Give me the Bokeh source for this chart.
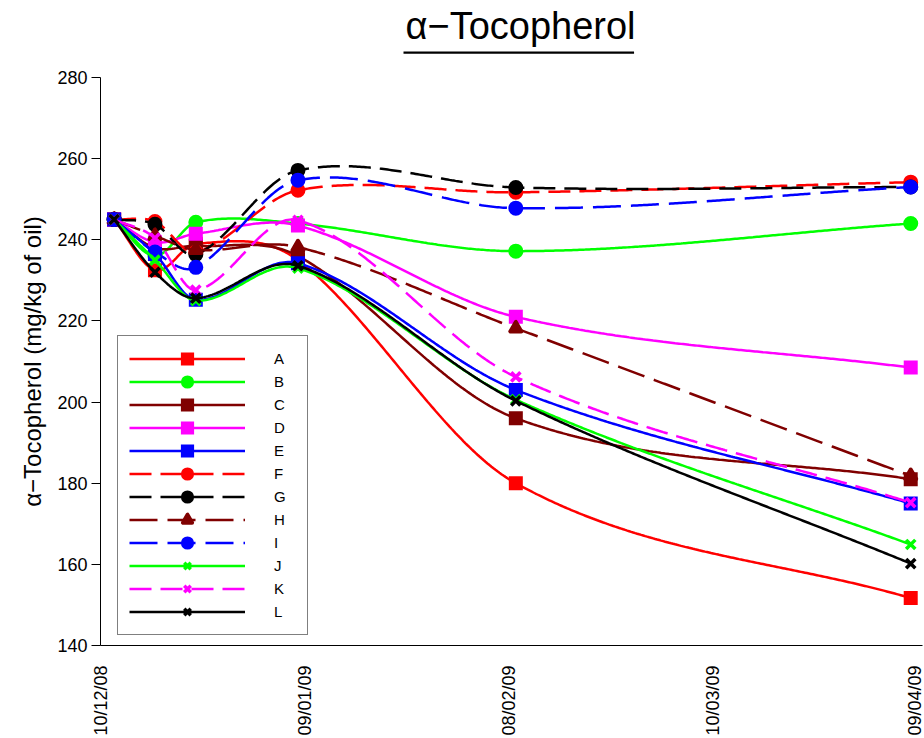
import numpy as np
from datetime import datetime
from bokeh.plotting import figure
from bokeh.models import FixedTicker, Legend, LegendItem, Title, Range1d
from bokeh.embed import file_html
from bokeh.resources import INLINE

# ---- data ----
dates = ["12/12/08", "18/12/08", "24/12/08", "08/01/09", "09/02/09", "08/04/09"]
tick_labels = ["10/12/08", "09/01/09", "08/02/09", "10/03/09", "09/04/09"]
y_ticks = [140, 160, 180, 200, 220, 240, 260, 280]

A = [245, 232.5, 239.0, 235.0, 180.0, 151.7]
B = [245, 236.0, 244.3, 244.0, 237.2, 244.0]
C = [245, 238.0, 238.5, 236.0, 196.0, 181.0]
D = [245, 239.4, 241.5, 243.5, 221.0, 208.5]
E = [245, 236.5, 225.2, 234.2, 203.0, 175.0]
F = [245, 244.5, 237.0, 252.2, 251.7, 254.2]
G = [245, 243.8, 236.4, 257.1, 252.9, 253.0]
H = [245, 241.0, 237.5, 238.2, 218.2, 181.8]
I = [245, 237.0, 233.2, 254.7, 247.8, 253.0]
J = [245, 235.0, 225.0, 233.0, 200.6, 164.9]
K = [245, 240.4, 227.6, 244.8, 206.2, 175.2]
L = [245, 232.0, 225.6, 233.6, 200.3, 160.2]

names = ["A", "B", "C", "D", "E", "F", "G", "H", "I", "J", "K", "L"]
values = [A, B, C, D, E, F, G, H, I, J, K, L]

RED, LIME, MAROON, MAG, BLUE, BLACK = "#FF0000", "#00FF00", "#800000", "#FF00FF", "#0000FF", "#000000"
colors = [RED, LIME, MAROON, MAG, BLUE, RED, BLACK, MAROON, BLUE, LIME, MAG, BLACK]
dashes = ["solid", "solid", "solid", "solid", "solid", "22 9", "22 9", "28 10", "28 10",
          "solid", "22 9", "solid"]
markers = ["square", "circle", "square", "square", "square", "circle", "circle",
           "triangle", "circle", "x", "x", "x"]

fmt = "%d/%m/%y"
base = datetime.strptime(tick_labels[0], fmt)
xdays = [(datetime.strptime(d, fmt) - base).days for d in dates]
tick_days = [(datetime.strptime(d, fmt) - base).days for d in tick_labels]


def smooth_curve(x, y, num=400):
    """Cardinal (Catmull-Rom style) Hermite spline through the data points."""
    x = np.asarray(x, float)
    y = np.asarray(y, float)
    n = len(x)
    m = np.zeros(n)
    m[0] = (y[1] - y[0]) / (x[1] - x[0])
    m[-1] = (y[-1] - y[-2]) / (x[-1] - x[-2])
    m[1:-1] = (y[2:] - y[:-2]) / (x[2:] - x[:-2])
    xs = np.union1d(np.linspace(x[0], x[-1], num), x)
    idx = np.clip(np.searchsorted(x, xs, side="right") - 1, 0, n - 2)
    x0, x1 = x[idx], x[idx + 1]
    h = x1 - x0
    t = (xs - x0) / h
    h00 = 2 * t ** 3 - 3 * t ** 2 + 1
    h10 = t ** 3 - 2 * t ** 2 + t
    h01 = -2 * t ** 3 + 3 * t ** 2
    h11 = t ** 3 - t ** 2
    ys = h00 * y[idx] + h10 * h * m[idx] + h01 * y[idx + 1] + h11 * h * m[idx + 1]
    return xs, ys


FONT = "Liberation Sans"

p = figure(width=924, height=738, output_backend="svg", toolbar_location=None,
           x_range=Range1d(0, 120.73), y_range=Range1d(140, 280),
           min_border_left=100, min_border_right=2, min_border_top=77, min_border_bottom=92)
p.outline_line_color = None
p.xgrid.visible = False
p.ygrid.visible = False

p.title.text = "\u03b1\u2212Tocopherol"
p.title.align = "left"
p.title.offset = 305
p.title.standoff = -35
p.title.text_font = FONT
p.title.text_font_size = "38px"
p.title.text_font_style = "normal"
p.title.text_color = "black"

# underline bar for the title (text annotation with only its background showing)
ul = Title(text=" ", align="left", offset=303, standoff=44, vertical_align="top",
           text_font_size="2px", background_fill_color="black", background_fill_alpha=1,
           padding=(115, 0))
p.add_layout(ul, "above")

# axes
p.yaxis.ticker = FixedTicker(ticks=y_ticks)
p.yaxis.minor_tick_line_color = None
p.yaxis.major_tick_out = 9
p.yaxis.major_tick_in = 0
p.yaxis.major_label_standoff = 4
p.yaxis.major_label_text_font = FONT
p.yaxis.major_label_text_font_size = "18px"
p.yaxis.major_label_text_color = "black"
p.yaxis.axis_label = "\u03b1\u2212Tocopherol (mg/kg of oil)"
p.yaxis.axis_label_text_font = FONT
p.yaxis.axis_label_text_font_size = "24px"
p.yaxis.axis_label_text_font_style = "normal"
p.yaxis.axis_label_text_color = "black"
p.yaxis.axis_label_standoff = 8

p.xaxis.ticker = FixedTicker(ticks=tick_days)
p.xaxis.major_label_overrides = {d: lab for d, lab in zip(tick_days, tick_labels)}
p.xaxis.minor_tick_line_color = None
p.xaxis.major_tick_out = 0
p.xaxis.major_tick_in = 0
p.xaxis.major_label_orientation = np.pi / 2
p.xaxis.major_label_standoff = 20
p.xaxis.major_label_text_font = FONT
p.xaxis.major_label_text_font_size = "18px"
p.xaxis.major_label_text_color = "black"
for ax in (p.xaxis, p.yaxis):
    ax.axis_line_color = "black"
    ax.axis_line_width = 1
    ax.major_tick_line_color = "black"

items = []
for name, vals, col, dash, mk in zip(names, values, colors, dashes, markers):
    xs, ys = smooth_curve(xdays, vals)
    lr = p.line(xs, ys, line_color=col, line_width=2.5, line_dash=dash)
    if mk == "x":
        sr = p.scatter(xdays, vals, marker="x", size=13, line_color=col, line_width=3.5)
    else:
        sz = 10 if mk == "square" else 11
        sr = p.scatter(xdays, vals, marker=mk, size=sz, fill_color=col, line_color=col,
                       line_width=4, line_join="round" if mk == "triangle" else "miter")
    items.append(LegendItem(label=name, renderers=[lr, sr]))

legend = Legend(items=items, location=(17, 10), glyph_width=116, glyph_height=23,
                label_height=23, spacing=0, padding=11, margin=0, label_standoff=29,
                label_width=22, border_line_color="black", border_line_width=1,
                background_fill_color="white", background_fill_alpha=1,
                label_text_font=FONT, label_text_font_size="15px", label_text_color="black")
p.add_layout(legend, "center")

open("out.html", "w").write(file_html(p, INLINE))
